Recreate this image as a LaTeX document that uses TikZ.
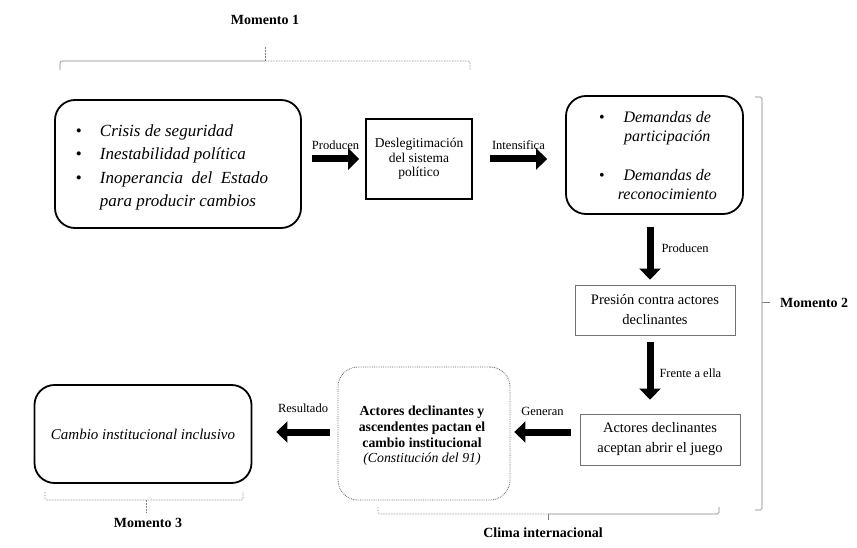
\documentclass[tikz,border=0pt]{standalone}
\usepackage{fontspec}
\setmainfont{Liberation Serif}
\usetikzlibrary{arrows.meta,positioning}
\tikzset{
  bigarrow/.style={line width=7pt,-{Triangle[length=11pt,width=21pt]}},
  roundbox/.style={draw,line width=1.8pt,rounded corners=20pt,inner sep=0pt},
  sqbox/.style={draw,line width=1.6pt,inner sep=0pt},
  greybox/.style={draw=black!55,line width=0.8pt,inner sep=0pt,align=center,font=\fontsize{14.5}{20}\selectfont},
  dotbox/.style={draw=black!60,densely dotted,line width=0.8pt,rounded corners=20pt,inner sep=0pt,align=center},
  lbl/.style={inner sep=0pt,font=\fontsize{12.5}{14}\selectfont},
  mom/.style={inner sep=0pt,font=\fontsize{14}{16}\selectfont\bfseries},
  brk/.style={draw=black!50,line width=0.6pt},
  brkd/.style={draw=black!55,line width=0.6pt,densely dotted},
}
\begin{document}
\begin{tikzpicture}[x=1pt,y=-1pt]
\useasboundingbox (0,0) rectangle (857,548);

% Momento 1 bracket
\node[mom] (m1) at (265,20) {Momento 1};
\coordinate (t1a) at (60,70);
\coordinate (t1b) at (265,61);
\coordinate (t1c) at (470,70);
\coordinate (t1d) at (265,47);
\draw[brk,rounded corners=2pt] (t1a) -- (60,61) -- (t1b);
\draw[brkd,rounded corners=2pt] (t1b) -- (470,61) -- (t1c);
\draw[brk,dashed,dash pattern=on 2pt off 1pt] (t1d) -- (t1b);

% Box 1
\node[roundbox,minimum width=246pt,minimum height=128pt] (b1) at (178,164) {};
\node[inner sep=0pt,font=\fontsize{17}{23.5}\selectfont] (t1) at (172,167) {%
\begin{tabular}{@{}l@{\hspace{18pt}}l@{}}
•&\textit{Crisis de seguridad}\\
•&\textit{Inestabilidad política}\\
•&\textit{Inoperancia\ \ del\ \ Estado}\\
&\textit{para producir cambios}
\end{tabular}};

% Box 2
\node[sqbox,minimum width=106pt,minimum height=80pt,align=center,font=\fontsize{13.5}{14.5}\selectfont] (b2) at (419,159) {Deslegitimación\\del sistema\\político};

% Box 3
\node[roundbox,minimum width=177pt,minimum height=118pt] (b3) at (654.5,155) {};
\node[inner sep=0pt,font=\fontsize{16}{19}\selectfont\itshape] (t3) at (658,157) {%
\begin{tabular}{@{}c@{\hspace{13pt}}c@{}}
\upshape•&Demandas de\\
&participación\\[20pt]
\upshape•&Demandas de\\
&reconocimiento
\end{tabular}};

% Box 4, 5
\node[greybox,minimum width=160pt,minimum height=50pt] (b4) at (655,310) {Presión contra actores\\declinantes};
\node[greybox,minimum width=160pt,minimum height=51pt] (b5) at (660,439.5) {Actores declinantes\\aceptan abrir el juego};

% Box 6
\node[dotbox,minimum width=172pt,minimum height=133pt] (b6) at (424,433.5) {};
\node[inner sep=0pt,align=center,font=\fontsize{13.8}{15.7}\selectfont] (t6) at (422,436) {\bfseries Actores declinantes y\\\bfseries ascendentes pactan el\\\bfseries cambio institucional\\\itshape (Constitución del 91)};

% Box 7
\node[roundbox,minimum width=217pt,minimum height=98pt,font=\fontsize{15}{18}\selectfont\itshape] (b7) at (143,434) {Cambio institucional inclusivo};

% Arrows
\draw[bigarrow] ([xshift=10pt]b1.east |- b2.west) -- node[lbl,above=5.5pt] (l1) {Producen} ([xshift=-6pt]b2.west);
\draw[bigarrow] ([xshift=17pt]b2.east) -- node[lbl,above=5.5pt] (l2) {Intensifica} ([xshift=-18pt]b3.west |- b2.east);
\draw[bigarrow] ([shift={(-4.5pt,-12pt)}]b3.south) -- node[lbl,right=8pt,yshift=5pt] (l3) {Producen} ([shift={(-5pt,5pt)}]b4.north);
\draw[bigarrow] ([shift={(-5pt,-7pt)}]b4.south) -- node[lbl,right=6pt,yshift=-2pt] (l4) {Frente a ella} ([shift={(-10pt,14pt)}]b5.north);
\draw[bigarrow] ([shift={(-9pt,7.5pt)}]b5.west) -- node[lbl,above=13pt] (l5) {Generan} ([shift={(4pt,1.5pt)}]b6.east);
\draw[bigarrow] ([shift={(-8pt,1.5pt)}]b6.west) -- node[lbl,above=16pt] (l6) {Resultado} ([shift={(24pt,2pt)}]b7.east);

% Momento 2 bracket
\coordinate (r1) at (755,97);
\coordinate (r2) at (755,510);
\coordinate (r3) at (770,302);
\draw[brk,rounded corners=1.5pt] (r1) -- (762,97) -- (762,510) -- (r2);
\draw[brk] (762,302) -- (r3);
\node[mom,anchor=west] (m2) at (780,303) {Momento 2};

% Momento 3 bracket
\coordinate (p1) at (45,492);
\coordinate (p2) at (243,492);
\coordinate (p3) at (146,513);
\draw[brkd,rounded corners=1.5pt] (p1) -- (45,500) -- (243,500) -- (p2);
\draw[brk,dashed,dash pattern=on 2pt off 1pt] (146,500) -- (p3);
\node[mom] (m3) at (148,523) {Momento 3};

% Clima internacional bracket
\coordinate (c1) at (378,507);
\coordinate (c2) at (719,507);
\coordinate (c3) at (548,520);
\draw[brkd,rounded corners=1.5pt] (c1) -- (378,514) -- (548,514);
\draw[brk,rounded corners=1.5pt] (548,514) -- (719,514) -- (c2);
\draw[brk] (548,514) -- (c3);
\node[mom] (m4) at (543,533) {Clima internacional};
\end{tikzpicture}
\end{document}
